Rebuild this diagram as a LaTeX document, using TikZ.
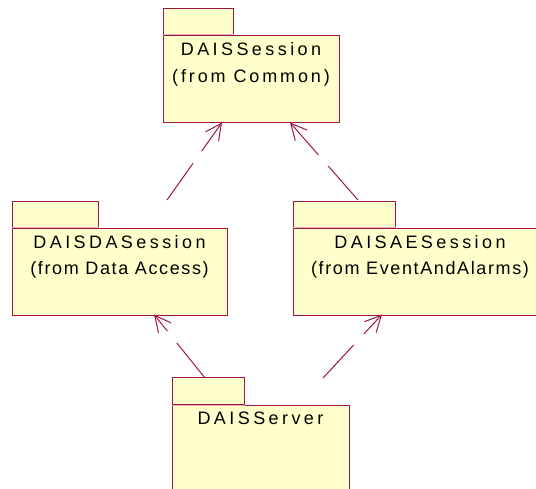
\documentclass[tikz,border=0pt]{standalone}
\usepackage{fontspec}
\setmainfont{Liberation Sans}
\newfontfamily\pkgone[LetterSpace=19]{Liberation Sans}
\newfontfamily\pkgtwo[LetterSpace=9]{Liberation Sans}
\newfontfamily\pkgthree[LetterSpace=16]{Liberation Sans}
\usetikzlibrary{arrows.meta}
\definecolor{rosered}{RGB}{160,20,70}
\definecolor{roseyellow}{RGB}{255,255,204}
\definecolor{rosepink}{RGB}{230,170,185}
\tikzset{
  pkgbody/.style={draw=rosered, fill=roseyellow, line width=1pt, rectangle, inner sep=0pt, anchor=north west},
  pkgtab/.style={draw=rosered, fill=roseyellow, line width=1pt, rectangle, inner sep=0pt, anchor=south west},
  tabline/.style={draw=rosepink, line width=1pt},
  nameA/.style={anchor=base, inner sep=0pt, font=\pkgone\fontsize{18}{21}\selectfont},
  nameB/.style={anchor=base, inner sep=0pt, font=\pkgtwo\fontsize{18}{21}\selectfont},
  nameC/.style={anchor=base, inner sep=0pt, font=\pkgthree\fontsize{18}{21}\selectfont},
  dep/.style={draw=rosered, line width=1pt, dash pattern=on 45pt off 15pt,
    -{Straight Barb[length=16pt,width=16pt,line width=1pt]}}
}
\begin{document}
\begin{tikzpicture}[x=1pt,y=-1pt]
\clip (0,0) rectangle (536,489);
% DAISSession
\node[pkgbody, minimum width=176pt, minimum height=87pt] (sbody) at (163,35) {};
\node[pkgtab, minimum width=70pt, minimum height=26pt] (stab) at (sbody.north west) {};
\draw[tabline] (stab.south west) -- (stab.south east);
\node[nameA] (sname) at (251,56) {DAISSession};
\node[nameC] (sfrom) at (251,83) {(from Common)};
% DAISDASession
\node[pkgbody, minimum width=215pt, minimum height=87pt] (dbody) at (12,228) {};
\node[pkgtab, minimum width=86pt, minimum height=26pt] (dtab) at (dbody.north west) {};
\draw[tabline] (dtab.south west) -- (dtab.south east);
\node[nameA] (dname) at (119.5,248.5) {DAISDASession};
\node[nameB] (dfrom) at (119.5,275) {(from Data Access)};
% DAISAESession
\node[pkgbody, minimum width=254pt, minimum height=87pt] (abody) at (293,228) {};
\node[pkgtab, minimum width=102pt, minimum height=26pt] (atab) at (abody.north west) {};
\draw[tabline] (atab.south west) -- (atab.south east);
\node[nameA] (aname) at (420,248.5) {DAISAESession};
\node[nameB] (afrom) at (420,275) {(from EventAndAlarms)};
% DAISServer
\node[pkgbody, minimum width=177pt, minimum height=100pt] (vbody) at (172,405) {};
\node[pkgtab, minimum width=72pt, minimum height=27pt] (vtab) at (vbody.north west) {};
\draw[tabline] (vtab.south west) -- (vtab.south east);
\node[nameA] (vname) at (260.5,424) {DAISServer};
% connector ends
\coordinate (c1) at (167,200);
\coordinate (t1) at (222,122.5);
\coordinate (c2) at (358,200);
\coordinate (t2) at (290,122.5);
\coordinate (c3) at (205,378);
\coordinate (t3) at (154,314.5);
\coordinate (c4) at (323,378);
\coordinate (t4) at (382,314.5);
\draw[dep] (c1) -- (t1);
\draw[dep] (c2) -- (t2);
\draw[dep] (c3) -- (t3);
\draw[dep] (c4) -- (t4);
\end{tikzpicture}
\end{document}
